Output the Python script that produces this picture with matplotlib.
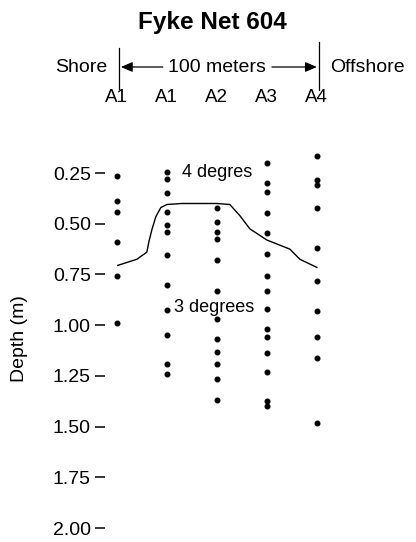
import numpy as np
import matplotlib
matplotlib.use('Agg')
import matplotlib.pyplot as plt
from matplotlib.transforms import blended_transform_factory

plt.rcParams['font.family'] = ['Liberation Sans', 'DejaVu Sans']

### Data
station_labels = ['A1', 'A1', 'A2', 'A3', 'A4']
station_pos = [0, 1, 2, 3, 4]

depth_a1_shore = [0.265, 0.39, 0.44, 0.59, 0.755, 0.99]
depth_a1 = [0.245, 0.28, 0.35, 0.44, 0.505, 0.54, 0.655, 0.80, 0.925, 1.05, 1.19, 1.24]
depth_a2 = [0.42, 0.49, 0.54, 0.575, 0.68, 0.83, 0.97, 1.07, 1.13, 1.19, 1.265, 1.37]
depth_a3 = [0.20, 0.30, 0.345, 0.445, 0.545, 0.65, 0.755, 0.83, 0.92, 1.02, 1.06,
            1.135, 1.23, 1.375, 1.40]
depth_a4 = [0.165, 0.285, 0.31, 0.42, 0.62, 0.78, 0.93, 1.06, 1.16, 1.48]
sample_depths = [depth_a1_shore, depth_a1, depth_a2, depth_a3, depth_a4]

# 3.5 degree boundary (thermocline) traced across the transect
line_x = [0.02, 0.4, 0.6, 0.64, 0.7, 0.78, 0.88, 1.0, 1.3, 2.0, 2.26, 2.46, 2.66,
          3.0, 3.46, 3.66, 4.0]
line_depth = [0.705, 0.675, 0.64, 0.59, 0.53, 0.465, 0.42, 0.405, 0.40, 0.40, 0.405,
              0.46, 0.525, 0.58, 0.625, 0.675, 0.715]

yticks = [0.25, 0.50, 0.75, 1.00, 1.25, 1.50, 1.75, 2.00]


def main():
    fig = plt.figure(figsize=(4.16, 5.42), dpi=100)
    ax = fig.add_axes([0.252, 0.0074, 0.565, 0.7343])

    for xpos, dd in zip(station_pos, sample_depths):
        ax.plot(np.full(len(dd), xpos), dd, ls='none', marker='o', ms=3.3,
                mfc='k', mec='k', clip_on=False)
    ax.plot(line_x, line_depth, c='k', lw=1.0)

    ax.text(2.0, 0.245, '4 degres', fontsize=13, ha='center', va='center')
    ax.text(1.95, 0.915, '3 degrees', fontsize=13, ha='center', va='center')

    ax.set_xlim(-0.24, 4.46)
    ax.set_ylim(2.049, 0.087)
    ax.set_xticks([])
    ax.set_yticks(yticks)
    ax.set_yticklabels(['{:.2f}'.format(v) for v in yticks])
    ax.tick_params(axis='y', direction='out', length=7, width=1.1, pad=3,
                   labelsize=14)
    for sp in ax.spines.values():
        sp.set_visible(False)
    ax.set_ylabel('Depth (m)', fontsize=14)
    ax.yaxis.set_label_coords(-0.325, 0.5)

    ### Header above the axes (x in data, y in figure fraction)
    tr = blended_transform_factory(ax.transData, fig.transFigure)
    fig.text(0.51, 1 - 22 / 542., 'Fyke Net 604', fontsize=17.5, fontweight='bold',
             ha='center', va='center')
    y_hdr = 1 - 67 / 542.
    ax.text(-0.18, y_hdr, 'Shore', transform=tr, fontsize=14, ha='right', va='center')
    ax.text(4.26, y_hdr, 'Offshore', transform=tr, fontsize=14, ha='left', va='center')
    ax.text(2.0, y_hdr, '100 meters', transform=tr, fontsize=14, ha='center', va='center')
    ax.plot([0.04, 0.04], [1 - 48 / 542., 1 - 89 / 542.], transform=tr, c='k',
            lw=0.9, clip_on=False)
    ax.plot([4.04, 4.04], [1 - 42 / 542., 1 - 90 / 542.], transform=tr, c='k',
            lw=0.9, clip_on=False)
    arw = dict(arrowstyle='-|>,head_length=0.7,head_width=0.3', color='k', lw=0.9,
               shrinkA=0, shrinkB=0)
    ax.annotate('', xy=(0.08, y_hdr), xytext=(0.92, y_hdr), xycoords=tr,
                textcoords=tr, arrowprops=arw, annotation_clip=False)
    ax.annotate('', xy=(4.0, y_hdr), xytext=(3.1, y_hdr), xycoords=tr,
                textcoords=tr, arrowprops=arw, annotation_clip=False)

    y_st = 1 - 98 / 542.
    for xpos, lab in zip(station_pos, station_labels):
        ax.text(xpos, y_st, lab, transform=tr, fontsize=13.5, ha='center', va='center')

    fig.savefig('out.png', dpi=100)
    return


if __name__ == "__main__":
    main()
